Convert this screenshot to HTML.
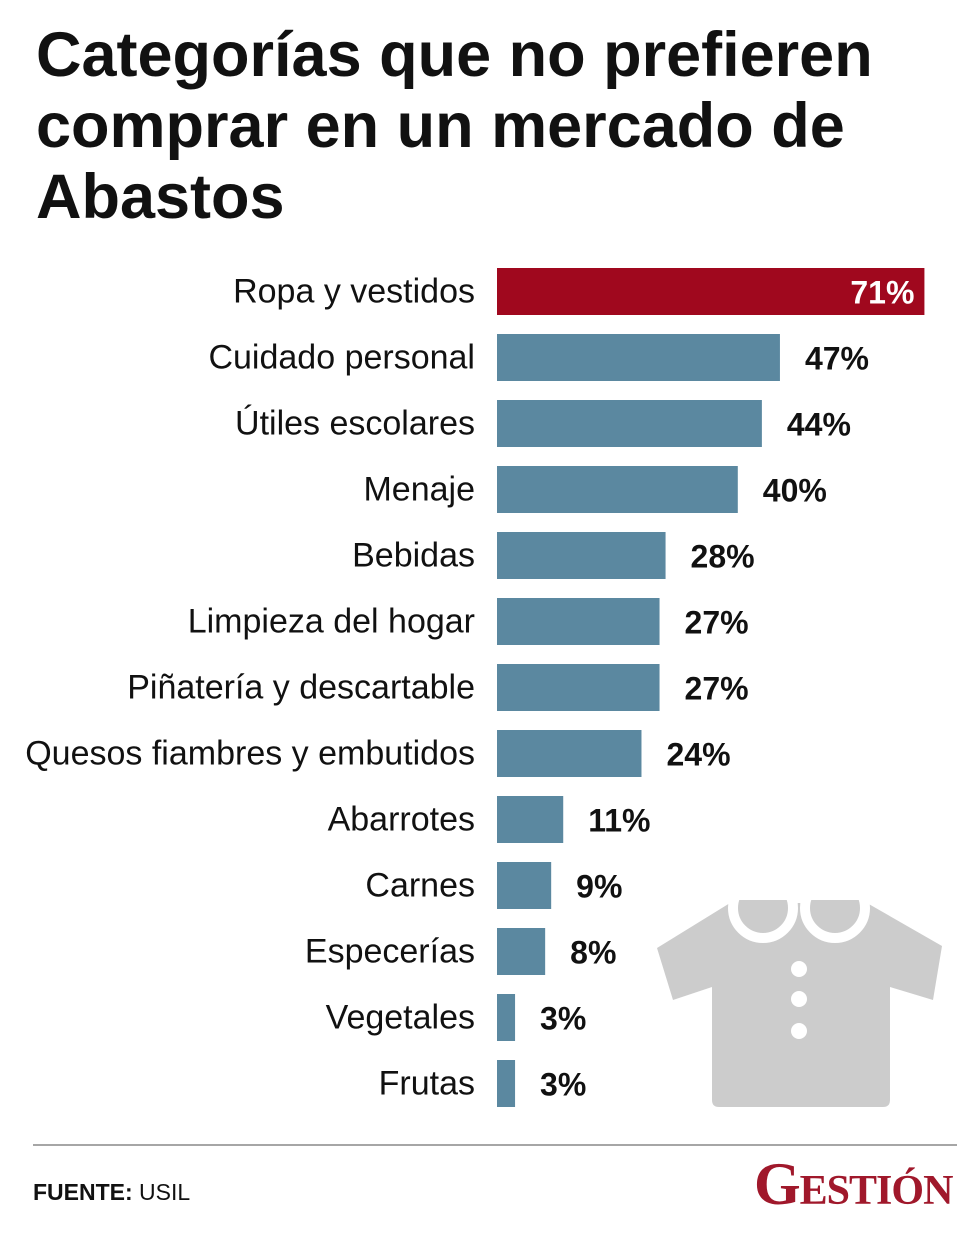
<!DOCTYPE html>
<html><head><meta charset="utf-8">
<style>
body{margin:0;background:#fff;}
#wrap{position:relative;width:980px;height:1237px;overflow:hidden;background:#fff;font-family:"Liberation Sans",sans-serif;}
h1{position:absolute;left:36px;top:20px;margin:0;font-size:63px;line-height:71px;font-weight:bold;letter-spacing:0px;color:#111;}
svg{position:absolute;left:0;top:0;}
.foot{position:absolute;left:33px;top:1179px;font-size:23px;color:#111;}
.logo{position:absolute;left:754px;top:1150px;font-family:"Liberation Serif",serif;font-weight:bold;font-size:60px;color:#a0182b;font-variant:small-caps;letter-spacing:-1px;}
</style></head><body>
<div id="wrap">
<h1>Categorías que no prefieren<br>comprar en un mercado de<br>Abastos</h1>
<svg id="chart" width="980" height="1237">
 <g>
  <path d="M730 903 L867 903 L942 946 L933 1000 L890 987 L890 1100 Q890 1107 883 1107 L719 1107 Q712 1107 712 1100 L712 987 L673 1000 L657 948 Z" fill="#cccccc"/>
  <circle cx="763" cy="908" r="30" fill="#cccccc" stroke="#fff" stroke-width="10"/>
  <circle cx="835" cy="908" r="30" fill="#cccccc" stroke="#fff" stroke-width="10"/>
  <rect x="720" y="880" width="160" height="20" fill="#fff"/>
  <circle cx="799" cy="969" r="8" fill="#fff"/>
  <circle cx="799" cy="999" r="8" fill="#fff"/>
  <circle cx="799" cy="1031" r="8" fill="#fff"/>
 </g>
 <line x1="33" y1="1145" x2="957" y2="1145" stroke="#888" stroke-width="1.5"/>
</svg>
<div class="foot"><b>FUENTE:</b> USIL</div>
<div class="logo">Gestión</div>
</div>
<script>
const categories=["Ropa y vestidos","Cuidado personal","Útiles escolares","Menaje","Bebidas","Limpieza del hogar","Piñatería y descartable","Quesos fiambres y embutidos","Abarrotes","Carnes","Especerías","Vegetales","Frutas"];
const values=[71,47,44,40,28,27,27,24,11,9,8,3,3];
const valueLabels=["71%","47%","44%","40%","28%","27%","27%","24%","11%","9%","8%","3%","3%"];
const svg=document.getElementById('chart');
const NS='http://www.w3.org/2000/svg';
const x0=497,scale=6.02,y0=268,pitch=66,bh=47;
function xs(v){return v*scale;}
function ys(i){return y0+i*pitch;}
categories.forEach((c,i)=>{
 const y=ys(i),w=xs(values[i]);
 const r=document.createElementNS(NS,'rect');
 r.setAttribute('x',x0);r.setAttribute('y',y);r.setAttribute('width',w);r.setAttribute('height',bh);
 r.setAttribute('fill',i===0?'#a0081e':'#5b88a0');
 
 
 svg.appendChild(r);
 const t=document.createElementNS(NS,'text');
 t.setAttribute('x',475);t.setAttribute('y',y+bh/2+11);t.setAttribute('text-anchor','end');
 t.setAttribute('font-size','34');t.setAttribute('fill','#111');t.setAttribute('font-family','Liberation Sans, sans-serif');
 t.textContent=c;
 
 
 svg.appendChild(t);
 const v=document.createElementNS(NS,'text');
 v.setAttribute('font-size','32');v.setAttribute('font-weight','bold');v.setAttribute('font-family','Liberation Sans, sans-serif');
 v.setAttribute('y',y+bh/2+12);
 if(i===0){v.setAttribute('x',x0+w-10);v.setAttribute('text-anchor','end');v.setAttribute('fill','#fff');}
 else{v.setAttribute('x',x0+w+25);v.setAttribute('fill','#111');}
 v.textContent=valueLabels[i];
 
 
 svg.appendChild(v);
});
</script>
</body></html>
